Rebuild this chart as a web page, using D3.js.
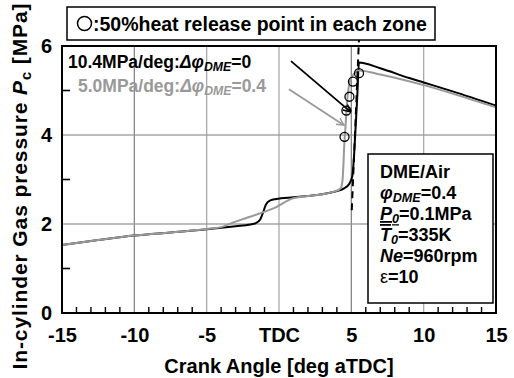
<!DOCTYPE html>
<html>
<head>
<meta charset="utf-8">
<script src="https://cdn.jsdelivr.net/npm/d3@7"></script>
<style>
  body { margin: 0; background: #fff; }
  text { font-family: "Liberation Sans", Arial, sans-serif; font-weight: bold; }
</style>
</head>
<body>
<div id="chart"></div>
<script>
// crank angle [deg aTDC] / pressure [MPa]
const blackAngle = [-15, -12.5, -10, -7.5, -5, -3, -2, -1.6, -1.3, -1.1, -0.9, -0.6, -0.2, 1, 2, 3, 4, 4.5, 4.85, 5.07, 5.18, 5.3, 5.41, 5.53, 7, 9, 10, 12, 15];
const blackP     = [1.53, 1.64, 1.74, 1.81, 1.88, 1.95, 1.99, 2.02, 2.1, 2.26, 2.44, 2.53, 2.56, 2.6, 2.63, 2.67, 2.74, 2.8, 2.9, 3.08, 3.5, 4.2, 4.86, 5.63, 5.5, 5.28, 5.18, 4.98, 4.66];
const grayAngle  = [-15, -12.5, -10, -7.5, -5, -4, -3.2, -2.3, -1.4, -0.2, 0.9, 2, 3, 3.5, 4, 4.26, 4.38, 4.45, 4.5, 4.6, 4.72, 4.95, 5.2, 5.53, 7, 10, 12, 15];
const grayP      = [1.53, 1.64, 1.74, 1.81, 1.89, 1.93, 2.03, 2.13, 2.23, 2.38, 2.57, 2.63, 2.67, 2.7, 2.75, 2.8, 2.95, 3.3, 3.7, 4.2, 4.8, 5.25, 5.38, 5.45, 5.36, 5.12, 4.93, 4.62];
// 50% heat release points
const hrAngle = [4.53, 4.66, 4.87, 5.11, 5.53];
const hrP     = [3.96, 4.55, 4.86, 5.2, 5.39];
// dashed tangent line
const tanAngle = [5.03, 5.53];
const tanP     = [2.31, 6.17];
// arrows from legend
const arrowBlack = [[0.83, 5.66], [4.95, 4.52]];
const arrowGray  = [[0.69, 5.03], [4.49, 4.22]];

const xTicks = [-15, -10, -5, 0, 5, 10, 15];
const xTickLabels = ["-15", "-10", "-5", "TDC", "5", "10", "15"];
const xGrid = [-10, -5, 0, 5, 10];
const yTicks = [0, 2, 4, 6];
const yGrid = [2, 4];

const infoLines = [
  [{t: "DME/Air"}],
  [{t: "φ", i: 1}, {t: "DME", i: 1, s: 1}, {t: "=0.4"}],
  [{t: "P", i: 1, u: 1}, {t: "0", i: 1, s: 1, u: 1}, {t: "=0.1MPa"}],
  [{t: "T", i: 1, o: 1}, {t: "0", i: 1, s: 1}, {t: "=335K"}],
  [{t: "Ne", i: 1}, {t: "=960rpm"}],
  [{t: "ε", n: 1}, {t: "=10"}]
];

const W = 514, H = 378;
const margin = {top: 46, right: 18, bottom: 65, left: 62};
const width = W - margin.left - margin.right;
const height = H - margin.top - margin.bottom;

const svg = d3.select("#chart").append("svg")
  .attr("width", W).attr("height", H);

const x = d3.scaleLinear().domain([-15, 15]).range([0, width]);
const y = d3.scaleLinear().domain([0, 6]).range([height, 0]);

const chart = svg.append("g").attr("transform", `translate(${margin.left},${margin.top})`);

// writes rich text segments (italic / subscript / under- and overline)
function rich(textSel, parts, size) {
  let shift = 0;
  parts.forEach(p => {
    const target = p.s ? size * 0.18 : 0;
    const ts = textSel.append("tspan").text(p.t)
      .attr("dy", target - shift)
      .attr("font-size", p.s ? size * 0.7 : size);
    shift = target;
    if (p.i) ts.attr("font-style", "italic");
    if (p.n) ts.style("font-weight", "normal");
    if (p.u) ts.attr("text-decoration", "underline");
    if (p.o) ts.attr("text-decoration", "overline");
  });
}

const fontStyle = g => g.selectAll("text").attr("font-size", 20).attr("fill", "#000")
  .style("font-family", "'Liberation Sans', Arial, sans-serif").style("font-weight", "bold");

// grid, drawn as thin filled bars
const gridColor = d => (d === -10 || d === 5) ? "#888" : "#aaa";
chart.append("g").selectAll("rect").data(xGrid).join("rect")
  .attr("x", d => x(d) - 0.65).attr("y", 0)
  .attr("width", 1.3).attr("height", height)
  .attr("fill", gridColor);
chart.append("g").selectAll("rect").data(yGrid).join("rect")
  .attr("x", 0).attr("y", d => y(d) - 0.65)
  .attr("width", width).attr("height", 1.3)
  .attr("fill", "#999");

// inward minor ticks
chart.append("g").selectAll("rect").data(d3.range(-15, 16).filter(d => !xGrid.includes(d))).join("rect")
  .attr("x", d => x(d) - 0.7).attr("y", height - 6)
  .attr("width", 1.4).attr("height", 6)
  .attr("fill", "#000");
chart.append("g").selectAll("rect").data(d3.range(0, 7).filter(d => !yGrid.includes(d))).join("rect")
  .attr("x", 0).attr("y", d => y(d) - 0.8)
  .attr("width", 8).attr("height", 1.6)
  .attr("fill", "#000");

// tick labels
chart.append("g")
  .attr("transform", `translate(0,${height})`)
  .call(d3.axisBottom(x).tickValues(xTicks).tickSize(0).tickPadding(15)
    .tickFormat((d, i) => xTickLabels[i]))
  .call(g => g.select(".domain").remove())
  .call(g => g.selectAll(".tick line").remove())
  .call(fontStyle);
chart.append("g")
  .call(d3.axisLeft(y).tickValues(yTicks).tickSize(0).tickPadding(10).tickFormat(d3.format("d")))
  .call(g => g.select(".domain").remove())
  .call(g => g.selectAll(".tick line").remove())
  .call(fontStyle);

// curves
const line = d3.line().x(d => x(d[0])).y(d => y(d[1])).curve(d3.curveMonotoneX);
chart.append("path").datum(blackAngle.map((a, i) => [a, blackP[i]]))
  .attr("d", line).attr("fill", "none").attr("stroke", "#000").attr("stroke-width", 2);
chart.append("path").datum(grayAngle.map((a, i) => [a, grayP[i]]))
  .attr("d", line).attr("fill", "none").attr("stroke", "#999").attr("stroke-width", 2);

chart.append("line")
  .attr("x1", x(tanAngle[0])).attr("y1", y(tanP[0]))
  .attr("x2", x(tanAngle[1])).attr("y2", y(tanP[1]))
  .attr("stroke", "#000").attr("stroke-width", 2).attr("stroke-dasharray", "7,5");

chart.append("g").selectAll("circle").data(hrAngle).join("circle")
  .attr("cx", d => x(d)).attr("cy", (d, i) => y(hrP[i])).attr("r", 4.5)
  .attr("fill", "none").attr("stroke", "#000").attr("stroke-width", 1.3);

// arrows
const defs = svg.append("defs");
[["ab", "#000"], ["ag", "#999"]].forEach(([id, c]) => {
  defs.append("marker").attr("id", id)
    .attr("viewBox", "0 0 10 10").attr("refX", 9).attr("refY", 5)
    .attr("markerWidth", 9).attr("markerHeight", 9).attr("orient", "auto")
    .attr("markerUnits", "userSpaceOnUse")
    .append("path").attr("d", "M1,1 L9,5 L1,9").attr("fill", "none")
    .attr("stroke", c).attr("stroke-width", 1.6);
});
[[arrowBlack, "#000", "ab"], [arrowGray, "#999", "ag"]].forEach(([a, c, id]) => {
  chart.append("line")
    .attr("x1", x(a[0][0])).attr("y1", y(a[0][1]))
    .attr("x2", x(a[1][0])).attr("y2", y(a[1][1]))
    .attr("stroke", c).attr("stroke-width", 1.8).attr("marker-end", `url(#${id})`);
});

// frame
chart.append("rect").attr("width", width).attr("height", height)
  .attr("fill", "none").attr("stroke", "#000").attr("stroke-width", 2);

// legend lines in plot
const leg1 = chart.append("text").attr("x", 6).attr("y", 22).attr("font-size", 17.5).attr("fill", "#000");
rich(leg1, [{t: "10.4MPa/deg:"}, {t: "Δφ", i: 1}, {t: "DME", i: 1, s: 1}, {t: "=0"}], 17.5);
const leg2 = chart.append("text").attr("x", 16).attr("y", 46).attr("font-size", 17.5).attr("fill", "#999");
rich(leg2, [{t: "5.0MPa/deg:"}, {t: "Δφ", i: 1}, {t: "DME", i: 1, s: 1}, {t: "=0.4"}], 17.5);

// info box
const box = svg.append("g").attr("transform", "translate(368,154)");
box.append("rect").attr("width", 125).attr("height", 149)
  .attr("fill", "#fff").attr("stroke", "#000").attr("stroke-width", 1.5);
infoLines.forEach((parts, i) => {
  const t = box.append("text").attr("x", 12).attr("y", 24 + i * 21)
    .attr("font-size", 18).attr("fill", "#000");
  rich(t, parts, 18);
});

// top key
const key = svg.append("g").attr("transform", "translate(67,7)");
key.append("rect").attr("width", 368).attr("height", 33)
  .attr("fill", "#fff").attr("stroke", "#000").attr("stroke-width", 1.5);
key.append("circle").attr("cx", 17.5).attr("cy", 16.5).attr("r", 7)
  .attr("fill", "none").attr("stroke", "#000").attr("stroke-width", 1.5);
key.append("text").attr("x", 26).attr("y", 24).attr("font-size", 19.5).attr("fill", "#000")
  .text(":50%heat release point in each zone");

// axis titles
svg.append("text").attr("x", margin.left + width / 2).attr("y", 373)
  .attr("text-anchor", "middle").attr("font-size", 20).attr("fill", "#000")
  .text("Crank Angle [deg aTDC]");
const yt = svg.append("text").attr("transform", "translate(27,186) rotate(-90)")
  .attr("text-anchor", "middle").attr("font-size", 21).attr("letter-spacing", 0.9).attr("fill", "#000");
rich(yt, [{t: "In-cylinder Gas pressure "}, {t: "P", i: 1}, {t: "c", s: 1}, {t: " [MPa]"}], 21);
</script>
</body>
</html>
